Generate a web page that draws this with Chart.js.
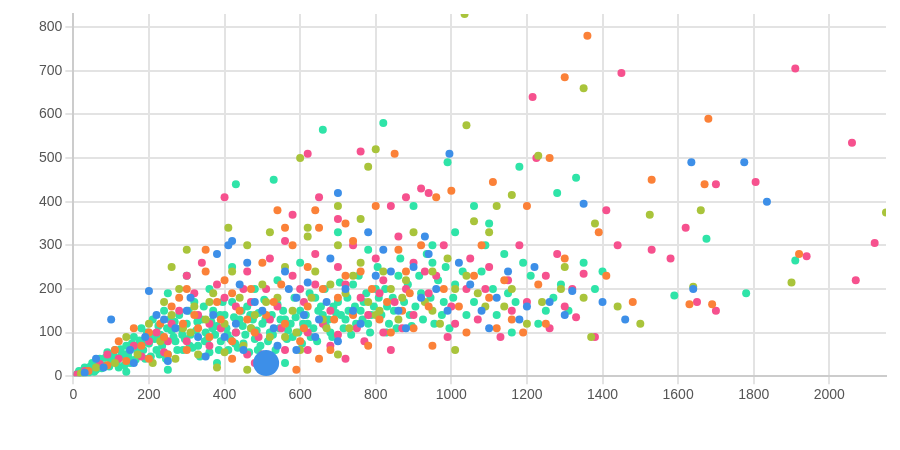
<!DOCTYPE html>
<html><head><meta charset="utf-8">
<script src="https://cdn.jsdelivr.net/npm/chart.js@4"></script>
<style>html,body{margin:0;background:#fff}#w{width:900px;height:450px}</style>
</head><body><div id="w"><canvas id="c"></canvas></div>
<script>
const seriesNames = ['A','B','C','D','E'];
const bigPoint = [[510,30]];
const xTicks = [0,200,400,600,800,1000,1200,1400,1600,1800,2000];
const yTicks = [0,100,200,300,400,500,600,700,800];
const blueVals = [[1635,490],[1775,490],[1835,400],[995,510],[1350,395],[1640,200],[1400,170],[1460,130],[1320,195],[700,420],[1220,250],[930,320],[200,195],[100,130],
[410,300],[420,310],[380,280],[460,260],[560,240],[620,215],[680,270],[820,290],[900,250],[1050,210],[1120,180],[860,150],[760,120],[640,90],[540,70],[450,60],[350,45],[250,35],[160,30],[80,20],[30,8],[300,150],[240,130],[500,150],[590,180],[720,200],[990,150],[1100,110],[1200,160],[940,280],[780,330],[150,60],[60,40],[330,90],[430,120],[650,130],[880,110],[1020,260],[1260,170],[1150,240],
[270,110],[310,180],[370,140],[440,210],[480,170],[530,110],[570,200],[610,140],[670,170],[740,150],[800,230],[960,200],[1080,150],[1180,130],[1300,140],[920,180],[840,240],[700,80],[590,60],[190,90],[220,140],[400,90]];
const orangeVals = [[1360,780],[1300,685],[1680,590],[1260,500],[850,510],[1530,450],[1110,445],[1670,440],[1920,280],[1690,165],[1630,165],[1410,230],[1200,390],[1000,425],[1390,330],[1480,170],
[650,340],[540,380],[580,300],[720,350],[800,390],[960,410],[920,300],[880,240],[760,240],[700,180],[620,160],[560,120],[480,100],[420,80],[360,90],[300,60],[250,50],[200,40],[140,35],[90,25],[40,12],[350,290],[300,200],[260,160],[400,220],[470,200],[600,80],[590,15],[680,60],[780,70],[840,100],[950,70],[1040,100],[1100,180],[1160,130],[1230,210],[1300,270],[1080,300],[980,200],[830,170],[380,170],[200,100],[120,80],
[230,120],[280,180],[320,140],[440,150],[500,260],[530,170],[620,250],[660,200],[740,140],[790,200],[870,150],[900,110],[1020,160],[1140,220],[1190,100],[1250,120],[860,290],[740,310],[640,380],[560,340],[350,240],[160,110],[110,60],[460,130],
[180,70],[240,90],[290,120],[330,110],[390,130],[420,190],[510,140],[550,210],[610,110],[690,130],[720,230],[810,130],[890,190],[940,160],[1060,230],[1120,110],[420,40],[520,40],[650,40]];
const greenVals = [[1035,830],[1350,660],[1040,575],[1900,215],[2150,375],[1525,370],[1660,380],[1230,505],[1160,415],[1100,330],[1380,350],[1640,205],[1500,120],[1370,90],[800,520],[780,480],[600,500],[1060,355],[1120,390],[1300,250],[1440,160],
[300,290],[260,250],[410,340],[460,300],[520,330],[620,320],[700,300],[760,260],[900,330],[950,240],[1010,200],[870,180],[810,150],[730,110],[660,130],[590,100],[520,90],[450,70],[400,55],[330,50],[270,40],[210,30],[170,50],[110,30],[60,20],[20,6],[350,130],[290,110],[230,80],[440,180],[500,210],[560,250],[680,210],[840,200],[1040,230],[1140,160],[1200,120],[1010,60],[970,120],[1290,200],[1350,180],[380,20],[460,15],[700,50],[600,60],
[240,170],[280,200],[320,160],[370,190],[420,240],[480,140],[540,180],[580,150],[640,240],[720,190],[780,170],[820,240],[860,130],[930,170],[990,270],[1070,190],[1160,200],[1240,170],[760,360],[700,390],[620,340],[200,120],[140,90],
[260,140],[310,100],[360,170],[400,120],[470,110],[510,170],[560,90],[630,180],[670,110],[740,230],[800,140],[880,220],[950,150],[1090,160]];
const pinkVals = [[1450,695],[1910,705],[2060,535],[1215,640],[1225,500],[1805,445],[1700,440],[1620,340],[2120,305],[1940,275],[2070,220],[1410,380],[1440,300],[1530,290],[1580,270],[1700,150],[1650,170],[1380,90],[1330,135],[1350,235],[620,510],[760,515],[940,420],[920,430],[650,410],[400,410],
[340,260],[300,230],[380,210],[460,240],[520,270],[560,310],[640,280],[700,250],[740,300],[800,270],[860,320],[980,300],[1050,270],[1100,250],[1150,220],[1180,300],[1250,230],[1300,160],[1000,160],[900,140],[820,100],[770,80],[700,95],[620,100],[560,60],[500,50],[430,100],[360,70],[300,80],[240,55],[180,45],[120,40],[70,28],[30,12],[10,4],[260,120],[200,80],[430,160],[520,130],[600,200],[680,150],[760,180],[880,200],[960,230],[1070,130],[1130,90],[1260,110],[1320,200],[1200,170],[840,60],[720,40],[480,30],
[220,100],[280,150],[320,190],[360,120],[400,180],[450,200],[490,90],[540,160],[580,230],[610,170],[660,120],[720,210],[780,140],[820,220],[850,170],[900,260],[940,190],[1010,120],[1090,200],[1160,150],[1280,280],[840,390],[880,410],[700,360],[580,370],[160,70],[90,50],
[250,80],[330,140],[390,110],[470,170],[510,200],[550,110],[640,210],[680,70],[750,110],[810,190],[870,110],[930,240],[990,90],[1040,200],[620,60],[460,50]];
const tealVals = [[820,580],[660,565],[1330,455],[1180,480],[1675,315],[1590,185],[1780,190],[1910,265],[1400,240],[990,490],[430,440],[530,450],[1280,420],[1060,390],[1160,100],
[10,5],[20,10],[30,20],[40,8],[50,30],[60,15],[70,40],[80,25],[90,55],[100,35],[110,60],[120,20],[130,45],[140,70],[150,30],[160,90],[170,55],[180,110],[190,40],[200,75],[210,130],[220,60],[230,95],[240,150],[250,50],[260,105],[270,80],[280,140],[290,60],[300,120],[310,95],[320,170],[330,70],[340,130],[350,100],[360,55],[370,150],[380,115],[390,80],[400,140],[410,60],[420,170],[430,100],[440,130],[450,75],[460,160],[470,110],[480,85],[490,145],[500,120],[520,100],[540,165],[560,130],[580,90],[600,150],[620,120],[640,180],[660,140],[680,100],[700,170],[720,130],[740,210],[760,150],[780,120],[800,200],[830,160],[860,230],[890,140],[920,190],[950,260],[980,170],[1010,210],[1040,140],[1080,240],[1110,200],[1140,280],[1170,170],[1210,230],[1250,150],[1290,210],[1350,260],[600,260],[700,330],[780,290],[540,220],[480,200],[420,250],[360,200],[300,230],[250,190],[900,390],[950,300],[1100,350],[1010,330],[560,30],[380,30],[250,15],[140,10],
[15,12],[25,4],[35,15],[45,22],[55,10],[65,32],[75,18],[85,42],[95,22],[105,48],[115,30],[125,62],[135,25],[145,52],[155,75],[165,38],[175,82],[185,60],[195,100],[205,45],[215,85],[225,115],[235,70],[245,40],[255,130],[265,90],[275,60],[285,110],[295,85],[305,150],[315,65],[325,105],[335,45],[345,160],[355,85],[365,125],[375,95],[385,60],[395,170],[405,110],[415,85],[425,135],[435,65],[445,150],[455,95],[465,55],[475,130],[485,105],[495,70],[505,175],[515,80],[525,140],[535,60],[545,110],[555,150],[565,85],[575,120],[585,180],[595,100],[605,75],[615,140],[625,190],[635,110],[645,80],[655,160],[665,200],[675,130],[685,90],[695,145],[705,215],[715,110],[725,180],[735,95],[745,160],[755,230],[765,130],[775,190],[785,100],[795,160],[805,250],[815,140],[825,200],[835,120],[845,180],[855,110],[865,270],[875,170],[885,210],[895,115],[905,160],[915,230],[925,130],[935,280],[945,180],[955,120],[965,220],[975,140],[985,250],[995,110],[1005,180],[1030,240],[1060,170],[1090,300],[1120,140],[1150,190],[1190,260],[1230,120],[1270,180],[1310,150],[1380,200],
[112,42],[128,52],[148,40],[168,68],[188,78],[208,95],[228,50],[248,110],[268,125],[288,95],[308,70],[328,125],[348,80],[368,110],[388,140],[408,95],[428,75],[448,115],[468,140],[488,60],[508,130],[528,95],[548,130],[568,105],[588,135],[608,120],[628,90],[648,150],[668,115],[688,160],[708,140],[728,150],[748,120],[768,170],[788,140],[808,180],[828,100],[848,150]];
const xMax = 2150, yMax = 830;

const toPts = a => a.map(p => ({x:p[0], y:p[1]}));
const colors = ['#3d8fe8','#fb8138','#a9c43b','#f6518e','#2fe4a8'];
const vals = [blueVals, orangeVals, greenVals, pinkVals, tealVals];
const datasets = [{label:'big', data: toPts(bigPoint), backgroundColor: colors[0], borderWidth:0, pointRadius:13, pointHoverRadius:13}];
vals.forEach((v,i)=>datasets.push({label:seriesNames[i], data: toPts(v), backgroundColor: colors[i], borderWidth:0, pointRadius:4}));
const setTicks = list => s => { s.ticks = list.map(v => ({value:v})); };
const tk = {color:'#555',font:{size:14,family:'Liberation Sans, Arial'},callback:v=>String(v),autoSkip:false,maxRotation:0};
new Chart(document.getElementById('c'), {
  type:'scatter',
  data:{datasets},
  options:{
    responsive:true, maintainAspectRatio:false, animation:false,
    layout:{padding:{left:36,right:14,top:14,bottom:43}},
    plugins:{legend:{display:false}, tooltip:{enabled:false}},
    scales:{
      x:{min:0,max:xMax,afterBuildTicks:setTicks(xTicks),ticks:tk,grid:{color:'#e3e3e3',lineWidth:2,tickLength:8},border:{color:'#ccc',width:2}},
      y:{min:0,max:yMax,afterBuildTicks:setTicks(yTicks),ticks:tk,grid:{color:'#e3e3e3',lineWidth:2,tickLength:8},border:{color:'#ccc',width:2}}
    }
  }
});
</script></body></html>
